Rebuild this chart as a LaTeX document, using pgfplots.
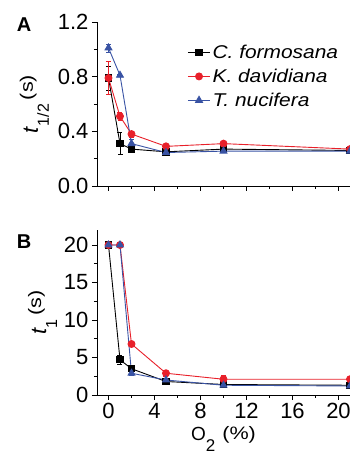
\documentclass[border=0pt]{standalone}
\usepackage{fontspec}
\setmainfont{Liberation Sans}
\newfontfamily\legfont{Liberation Sans}[FakeStretch=1.13]
\newfontfamily\widefont{Liberation Sans}[FakeStretch=1.2]
\usepackage{pgfplots}
\pgfplotsset{compat=1.18}
\usepackage{pgfplotstable}
\definecolor{cred}{RGB}{232,32,42}
\definecolor{cblue}{RGB}{57,83,164}

\pgfplotstableread{
x y e
0 0.79 0.09
1 0.31 0.08
2 0.27 0.01
5 0.25 0.01
10 0.27 0.01
21 0.26 0.01
}\topC
\pgfplotstableread{
x y e
0 0.79 0.12
1 0.51 0.03
2 0.38 0.02
5 0.29 0.01
10 0.31 0.02
21 0.27 0.01
}\topK
\pgfplotstableread{
x y e
0 1.01 0.03
1 0.81 0.01
2 0.31 0.03
5 0.245 0.01
10 0.255 0.01
21 0.255 0.01
}\topT
\pgfplotstableread{
x y e
0 20 0
1 4.7 0.6
2 3.5 0.2
5 1.8 0.2
10 1.4 0.1
21 1.3 0.1
}\botC
\pgfplotstableread{
x y e
0 20 0
1 20 0
2 6.8 0.2
5 2.9 0.4
10 2.1 0.5
21 2.1 0.2
}\botK
\pgfplotstableread{
x y e
0 20 0
1 20 0
2 2.9 0.2
5 2.0 0.2
10 1.3 0.1
21 1.2 0.1
}\botT

\pgfplotsset{
  panel/.style={
    scale only axis,
    width=253pt,
    axis lines=left,
    axis line style={-, line width=0.8pt},
    tick align=outside,
    major tick length=5pt,
    minor tick length=3pt,
    tick style={line width=0.8pt, black},
    xmin=-1, xmax=21,
    xtick={0,4,...,20},
    minor x tick num=1,
    minor y tick num=1,
    ticklabel style={font=\fontsize{22}{22}\selectfont},
    /pgf/number format/assume math mode=true,
    every axis plot/.append style={line width=0.9pt},
    error bars/y dir=both,
    error bars/y explicit,
  },
  sC/.style={black, mark=square*, mark size=3.2pt, mark options={solid},
    error bars/error bar style={black, line width=0.8pt},
    error bars/error mark options={rotate=90, mark size=2.5pt, black}},
  sK/.style={cred, mark=*, mark size=3.5pt, mark options={solid},
    error bars/error bar style={cred, line width=0.8pt},
    error bars/error mark options={rotate=90, mark size=2.5pt, cred}},
  sT/.style={cblue, mark=triangle*, mark size=4pt, mark options={solid},
    error bars/error bar style={cblue, line width=0.8pt},
    error bars/error mark options={rotate=90, mark size=2.5pt, cblue}},
}

\begin{document}
\begin{tikzpicture}
\path[use as bounding box] (0,0) rectangle (350pt,464pt);

\begin{axis}[panel,
  at={(97pt,278pt)}, anchor=south west,
  height=164pt,
  ymin=0, ymax=1.2,
  ytick={0,0.4,0.8,1.2},
  xticklabels={},
  yticklabel style={/pgf/number format/.cd, fixed, fixed zerofill, precision=1},
  ylabel={\fontsize{22}{22}\selectfont\textit{t}\raisebox{-11pt}{\fontsize{16}{16}\selectfont 1/2}\hspace{4pt}\raisebox{5pt}{\widefont\fontsize{18}{18}\selectfont(s)}},
  ylabel style={xshift=0pt, yshift=2pt},
  legend style={draw=none, fill=none, at={(0.345,0.885)}, anchor=north west,
    font=\legfont\itshape\fontsize{18.5}{18.5}\selectfont, row sep=5pt,
    /tikz/every even column/.append style={column sep=3pt}},
  legend cell align=left,
  legend image code/.code={\draw[mark repeat=2,mark phase=2] plot coordinates {(0cm,0cm) (0.39cm,0cm) (0.78cm,0cm)};},
]
\addplot+[sC] table[x=x, y=y, y error=e]{\topC};
\addlegendentry{C. formosana}
\addplot+[sK] table[x=x, y=y, y error=e]{\topK};
\addlegendentry{K. davidiana}
\addplot+[sT] table[x=x, y=y, y error=e]{\topT};
\addlegendentry{T. nucifera}
\end{axis}

\begin{axis}[panel,
  at={(97pt,69pt)}, anchor=south west,
  height=165pt,
  ymin=0, ymax=22,
  ytick={0,5,10,15,20},
  ylabel={\fontsize{22}{22}\selectfont\textit{t}\raisebox{-11pt}{\fontsize{16}{16}\selectfont 1}\hspace{4pt}\raisebox{5pt}{\widefont\fontsize{18}{18}\selectfont(s)}},
  xlabel={\fontsize{19}{19}\selectfont O\raisebox{-11pt}{\fontsize{17}{17}\selectfont 2}\hspace{7pt}\raisebox{1pt}{\widefont\fontsize{18}{18}\selectfont(\%)}},
]
\addplot+[sC] table[x=x, y=y, y error=e]{\botC};
\addplot+[sK] table[x=x, y=y, y error=e]{\botK};
\addplot+[sT] table[x=x, y=y, y error=e]{\botT};
\end{axis}

\node[font=\bfseries\fontsize{20}{20}\selectfont] at (24pt,439pt) {A};
\node[font=\bfseries\fontsize{20}{20}\selectfont] at (24pt,222pt) {B};
\end{tikzpicture}
\end{document}
